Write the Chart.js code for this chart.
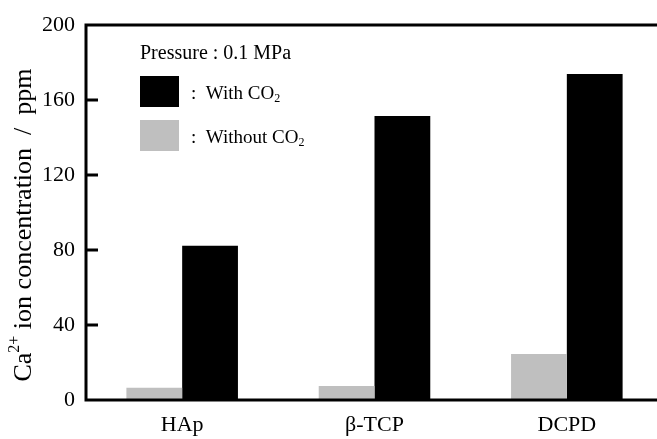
<!DOCTYPE html>
<html>
<head>
<meta charset="utf-8">
<script src="https://cdn.jsdelivr.net/npm/chart.js@4/dist/chart.umd.min.js"></script>
<style>
  html, body { margin: 0; padding: 0; background: #fff; overflow: hidden; }
  #wrap { width: 670px; height: 439px; }
</style>
</head>
<body>
<div id="wrap"><canvas id="c" width="670" height="439"></canvas></div>
<script>
// ---- data ----
const categories = ['HAp', 'β-TCP', 'DCPD'];
const withoutCO2 = [6.6, 7.5, 24.5];
const withCO2 = [82.3, 151.5, 173.9];
const seriesLabels = ['Without CO₂', 'With CO₂'];
const legendTitle = 'Pressure : 0.1 MPa';
const yTitleMain = 'Ca';
const yTitleSup = '2+';
const yTitleRest = ' ion concentration  /  ppm';
const yMin = 0, yMax = 200, yStep = 40;

const FONT = "'Liberation Serif', 'Times New Roman', serif";
const GRAY = '#bfbfbf';
const BLACK = '#000000';

// draw a string with "₂" rendered as a true subscript
function drawSubText(ctx, text, x, y, size) {
  const parts = text.split('₂');
  let cx = x;
  parts.forEach((p, i) => {
    ctx.font = size + 'px ' + FONT;
    ctx.fillText(p, cx, y);
    cx += ctx.measureText(p).width;
    if (i < parts.length - 1) {
      ctx.font = Math.round(size * 0.65) + 'px ' + FONT;
      ctx.fillText('2', cx, y + size * 0.18);
      cx += ctx.measureText('2').width;
    }
  });
}

const framePlugin = {
  id: 'frame',
  afterDatasetsDraw(chart) {
    const { ctx, chartArea: a, scales } = chart;
    ctx.save();
    ctx.strokeStyle = '#000';
    ctx.lineWidth = 3;
    ctx.strokeRect(a.left, a.top, a.right - a.left, a.bottom - a.top);
    // inward ticks on the y axis
    scales.y.ticks.forEach(t => {
      if (t.value <= yMin || t.value >= yMax) return;
      const py = scales.y.getPixelForValue(t.value);
      ctx.beginPath();
      ctx.moveTo(a.left, py);
      ctx.lineTo(a.left + 12, py);
      ctx.stroke();
    });
    ctx.restore();
  },
  afterDraw(chart) {
    const { ctx, data } = chart;
    ctx.save();
    ctx.fillStyle = '#000';
    ctx.textBaseline = 'alphabetic';
    ctx.textAlign = 'left';
    // legend
    ctx.font = '20px ' + FONT;
    ctx.fillText(legendTitle, 140, 59);
    const order = [1, 0];
    const boxY = [76, 120];
    order.forEach((di, k) => {
      const ds = data.datasets[di];
      ctx.fillStyle = ds.backgroundColor;
      ctx.fillRect(140, boxY[k], 39, 31);
      ctx.fillStyle = '#000';
      drawSubText(ctx, ':  ' + ds.label, 191, boxY[k] + 23, 19);
    });
    // y title (rotated, with superscript)
    const size = 26;
    const supSize = Math.round(size * 0.62);
    ctx.font = size + 'px ' + FONT;
    const w1 = ctx.measureText(yTitleMain).width;
    const w3 = ctx.measureText(yTitleRest).width;
    ctx.font = supSize + 'px ' + FONT;
    const w2 = ctx.measureText(yTitleSup).width;
    const total = w1 + w2 + w3;
    ctx.translate(31, 225);
    ctx.rotate(-Math.PI / 2);
    let x = -total / 2;
    ctx.font = size + 'px ' + FONT;
    ctx.fillText(yTitleMain, x, 0); x += w1;
    ctx.font = supSize + 'px ' + FONT;
    ctx.fillText(yTitleSup, x, -size * 0.45); x += w2;
    ctx.font = size + 'px ' + FONT;
    ctx.fillText(yTitleRest, x, 0);
    ctx.restore();
  }
};

new Chart(document.getElementById('c'), {
  type: 'bar',
  data: {
    labels: categories,
    datasets: [
      { label: seriesLabels[0], data: withoutCO2, backgroundColor: GRAY, borderWidth: 0 },
      { label: seriesLabels[1], data: withCO2, backgroundColor: BLACK, borderWidth: 0 }
    ]
  },
  options: {
    responsive: false,
    animation: false,
    devicePixelRatio: 1,
    layout: { padding: { left: 0, right: 7, top: 25, bottom: 0 } },
    plugins: { legend: { display: false }, title: { display: false }, tooltip: { enabled: false } },
    datasets: { bar: { categoryPercentage: 0.58, barPercentage: 1 } },
    scales: {
      x: {
        grid: { display: false, drawTicks: false },
        border: { display: false },
        ticks: { color: '#000', font: { family: FONT, size: 22 }, padding: 12, maxRotation: 0 },
        afterFit(s) { s.height = 39; }
      },
      y: {
        min: yMin, max: yMax,
        grid: { display: false, drawTicks: false },
        border: { display: false },
        ticks: { stepSize: yStep, color: '#000', font: { family: FONT, size: 22 }, padding: 11 },
        afterFit(s) { s.width = 86; }
      }
    }
  },
  plugins: [framePlugin]
});
</script>
</body>
</html>
